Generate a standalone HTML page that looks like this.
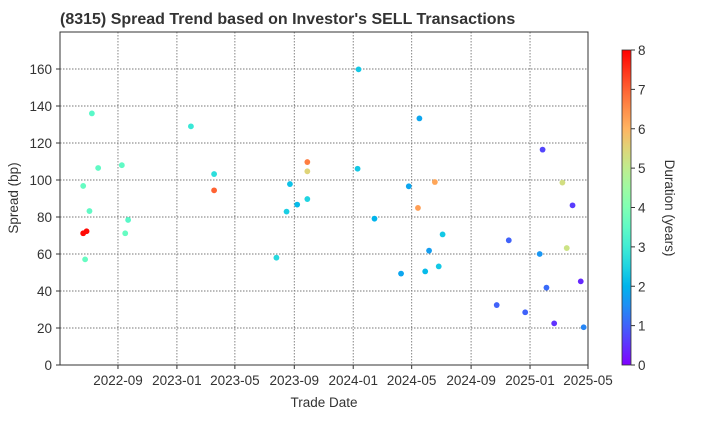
<!DOCTYPE html>
<html><head><meta charset="utf-8"><style>
body{margin:0;background:#fff;font-family:"Liberation Sans",Arial,sans-serif}
</style></head><body>
<svg width="720" height="420" xmlns="http://www.w3.org/2000/svg" font-family="Liberation Sans, Arial, sans-serif">
<defs><linearGradient id="cb" x1="0" y1="1" x2="0" y2="0"></linearGradient></defs>
<rect width="720" height="420" fill="#fff"/>
<text x="60" y="24" font-size="16" font-weight="bold" fill="#333">(8315)   Spread Trend based on Investor's SELL Transactions</text>
<g id="grid"></g>
<g id="pts"></g>
<rect x="60" y="32" width="528" height="333" fill="none" stroke="#333" stroke-width="1"/>
<g id="axes"></g>
<text transform="translate(18,198) rotate(-90)" text-anchor="middle" font-size="13.5" fill="#333">Spread (bp)</text>
<text x="324" y="407" text-anchor="middle" font-size="13.5" fill="#333">Trade Date</text>
<rect x="622" y="50" width="9" height="315" fill="url(#cb)" stroke="#333" stroke-width="0.8"/>
<g id="cbt"></g>
<text transform="translate(665,208) rotate(90)" text-anchor="middle" font-size="13.5" fill="#333">Duration (years)</text>
</svg>
<script>
const dates=["2022-07-09","2023-01-30","2023-09-28","2023-09-28","2022-07-22","2022-09-09","2023-03-19","2022-06-21","2023-08-23","2023-03-19","2023-09-28","2023-09-07","2022-07-04","2023-08-16","2022-09-22","2022-06-21","2022-06-28","2022-09-16","2022-06-25","2023-07-26","2024-01-12","2024-05-17","2025-01-27","2024-01-10","2024-06-18","2025-03-09","2024-04-25","2025-03-30","2024-05-14","2024-02-14","2024-07-04","2024-11-18","2024-06-06","2025-01-21","2025-03-18","2024-04-09","2024-05-29","2024-06-26","2025-04-16","2025-02-04","2024-10-24","2024-12-22","2025-02-20","2025-04-22"];
const spreads=[136,129,109.7,104.7,106.5,108,103.2,96.8,97.8,94.4,89.7,86.7,83.2,82.9,78.4,71.2,72.3,71.2,57.1,58,159.8,133.3,116.4,106.1,98.9,98.6,96.6,86.3,84.9,79.1,70.6,67.4,61.8,60,63.2,49.4,50.6,53.3,45.2,41.8,32.4,28.5,22.5,20.4];
const durations=[3.4,2.9,6.7,5.5,3.5,3.5,2.7,3.6,2.2,7,2.5,2.1,3.5,2.4,3.4,7.9,7.9,3.6,3.6,2.6,2.3,1.8,0.7,2.3,6.2,5.3,1.8,0.6,6.3,2,2.3,1,1.7,1.6,5.2,1.8,2.1,2.3,0.4,1.1,1,1,0.5,1.4];
const yTicks=[0,20,40,60,80,100,120,140,160];
const xTicks=["2022-09","2023-01","2023-05","2023-09","2024-01","2024-05","2024-09","2025-01","2025-05"];
const cTicks=[0,1,2,3,4,5,6,7,8];
const NS="http://www.w3.org/2000/svg";
const t0=Date.UTC(2022,4,4),t1=Date.UTC(2025,4,1);
function tm(s){const p=s.split("-");return Date.UTC(+p[0],+p[1]-1,p[2]?+p[2]:1);}
function X(s){return 60+(tm(s)-t0)/(t1-t0)*528;}
function Y(v){return 365-v*1.85;}
function rainbow(d){const x=Math.max(0,Math.min(1,d/8));const c=v=>Math.round(255*Math.max(0,Math.min(1,v)));
return `rgb(${c(Math.abs(2*x-0.5))},${c(Math.sin(Math.PI*x))},${c(Math.abs(Math.cos(Math.PI*x/2)))})`;}
function mk(tag,at,parent){const e=document.createElementNS(NS,tag);for(const k in at)e.setAttribute(k,at[k]);parent.appendChild(e);return e;}
const grid=document.getElementById("grid"),axes=document.getElementById("axes"),pts=document.getElementById("pts"),cbt=document.getElementById("cbt");
yTicks.forEach(v=>{const y=Y(v);
if(v>0){const l=mk("line",{x1:60,x2:588,y1:y,y2:y,stroke:"#777","stroke-dasharray":"1.5,1.5","stroke-width":0.9},grid);

}
const tk=mk("line",{x1:56,x2:60,y1:y,y2:y,stroke:"#333"},axes);


const t=mk("text",{x:52,y:y+5,"text-anchor":"end","font-size":13.5,fill:"#333"},axes);t.textContent=v;

});
xTicks.forEach(s=>{const x=X(s);
const l=mk("line",{x1:x,x2:x,y1:32,y2:365,stroke:"#777","stroke-dasharray":"1.5,1.5","stroke-width":0.9},grid);


const tk=mk("line",{x1:x,x2:x,y1:365,y2:369,stroke:"#333"},axes);


const t=mk("text",{x:x,y:385,"text-anchor":"middle","font-size":13.5,fill:"#333"},axes);t.textContent=s;

});
dates.forEach((d,i)=>{const c=mk("circle",{cx:X(d),cy:Y(spreads[i]),r:2.9,fill:rainbow(durations[i])},pts);

});
const g=document.getElementById("cb");
for(let i=0;i<=16;i++){const s=mk("stop",{offset:i/16,"stop-color":rainbow(i/2)},g);}
cTicks.forEach(v=>{const y=365-v*315/8;
const tk=mk("line",{x1:631,x2:635,y1:y,y2:y,stroke:"#333"},cbt);


const t=mk("text",{x:638,y:y+5,"font-size":13.5,fill:"#333"},cbt);t.textContent=v;

});
</script>
</body></html>
